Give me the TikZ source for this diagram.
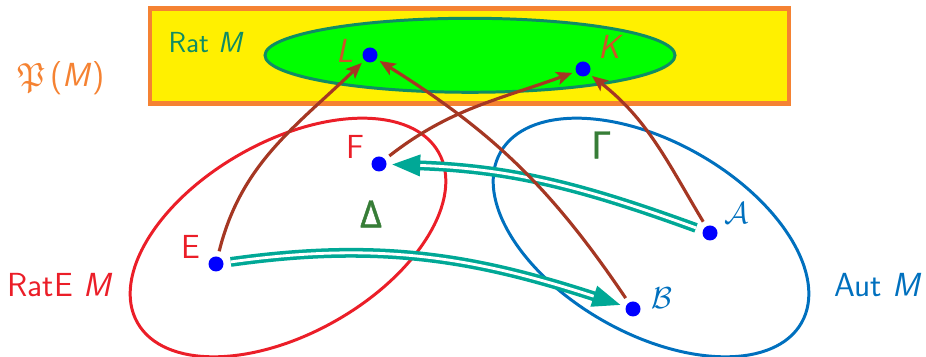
\documentclass[tikz,border=0pt]{standalone}
\usepackage{fontspec}
\usepackage{amssymb}
\usetikzlibrary{positioning,arrows.meta}
\newfontfamily\grkfont[FakeBold=1.2]{Open Sans}

\definecolor{ybg}{RGB}{255,240,0}
\definecolor{oframe}{RGB}{245,130,50}
\definecolor{gfill}{RGB}{0,255,0}
\definecolor{ratcol}{RGB}{15,140,100}
\definecolor{lkcol}{RGB}{205,85,40}
\definecolor{ptblue}{RGB}{0,0,255}
\definecolor{ecol}{RGB}{235,30,40}
\definecolor{acol}{RGB}{0,112,190}
\definecolor{grkcol}{RGB}{55,125,55}
\definecolor{mapcol}{RGB}{165,55,35}
\definecolor{trcol}{RGB}{0,168,150}

\begin{document}
\begin{tikzpicture}[x=0.02cm, y=0.02cm,
  font=\sffamily\fontsize{19}{22}\selectfont,
  pt/.style={circle, fill=ptblue, inner sep=0pt, minimum size=15*0.02cm},
  lbl/.style={inner sep=0pt},
  famline/.style={line width=1.7pt},
  sem/.style={draw=mapcol, line width=1.8pt, shorten <=3pt, shorten >=2pt,
    -{Stealth[length=9pt, width=7.5pt, inset=2pt]}},
  conv/.style={draw=trcol, double=white, line width=2pt, double distance=1.6pt,
    shorten <=4pt, shorten >=3pt, -{Triangle[length=16pt, width=12pt]}}]
  \useasboundingbox (0,0) rectangle (926,357);

  % the box of all subsets and the rational ones
  \draw[fill=ybg, draw=oframe, line width=2.8pt] (150,253.5) rectangle (789,348.5);
  \draw[fill=gfill, draw=ratcol, line width=1.7pt] (470,301.7) ellipse (205 and 37);
  \node[lbl, text=oframe] (pm) at (61,279) {$\mathfrak{P}$\,(\textit{M})};
  \node[lbl, text=ratcol, font=\sffamily\fontsize{16.5}{20}\selectfont] (rat) at (206,314) {Rat \textit{M}};

  % expressions and automata
  \draw[famline, draw=ecol, rotate around={29.5:(288,119.5)}] (288,119.5) ellipse (173 and 96);
  \draw[famline, draw=acol, rotate around={-29.5:(651,119.5)}] (651,119.5) ellipse (173 and 96);
  \node[lbl, text=ecol] (ratE) at (60,72) {RatE \textit{M}};
  \node[lbl, text=acol] (aut) at (878,72) {Aut \textit{M}};

  \node[pt] (L) at (370,302) {};
  \node[pt] (K) at (583,288) {};
  \node[pt] (F) at (379,193) {};
  \node[pt] (E) at (216,93) {};
  \node[pt] (A) at (710,124) {};
  \node[pt] (B) at (633,48) {};

  \node[lbl, text=lkcol] (Ltxt) at (345,306) {\textit{L}};
  \node[lbl, text=lkcol] (Ktxt) at (611,310) {\textit{K}};
  \node[lbl, text=ecol]  (Ftxt) at (355,210) {F};
  \node[lbl, text=ecol]  (Etxt) at (191,110) {E};
  \node[lbl, text=acol]  (Atxt) at (737,144) {$\mathcal{A}$};
  \node[lbl, text=acol]  (Btxt) at (662,59) {$\mathcal{B}$};
  \node[lbl, text=grkcol, font=\grkfont\fontsize{21.5}{24}\selectfont] (delta) at (371,143) {Δ};
  \node[lbl, text=grkcol, font=\grkfont\fontsize{21.5}{24}\selectfont] (gamma) at (601,212) {Γ};

  % conversions
  \draw[conv] (E) to[out=8, in=162] (B);
  \draw[conv] (A) to[out=160, in=-2] (F);

  % semantics
  \draw[sem] (E) to[out=76, in=224] (L);
  \draw[sem] (F) to[out=38, in=200] (K);
  \draw[sem] (A) to[out=121, in=-38] (K);
  \draw[sem] (B) to[out=124, in=-32] (L);
\end{tikzpicture}
\end{document}
